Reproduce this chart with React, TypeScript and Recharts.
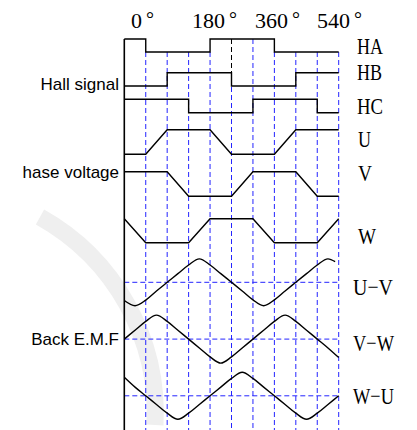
import React from 'react';
import { LineChart, Line, XAxis, YAxis, ReferenceLine } from 'recharts';

// electrical angle of each grid step (one step = 60 deg)
const gridDeg = [0, 60, 120, 180, 240, 300, 360, 420, 480, 540, 600];

// hall sensor states, one per step (last value repeats for the step end)
const haBits = [1, 0, 0, 0, 1, 1, 1, 0, 0, 0, 0];
const hbBits = [0, 0, 1, 1, 1, 0, 0, 0, 1, 1, 1];
const hcBits = [1, 1, 1, 0, 0, 0, 1, 1, 1, 0, 0];

// phase voltage (0 = low, 1 = high) at every step
const uPhase = [0, 0, 1, 1, 1, 0, 0, 0, 1, 1, 1];
const vPhase = [1, 1, 1, 0, 0, 0, 1, 1, 1, 0, 0];
const wPhase = [1, 0, 0, 0, 1, 1, 1, 0, 0, 0, 1];

// back EMF, sampled every half step
const emfDeg = [0, 30, 60, 90, 120, 150, 180, 210, 240, 270, 300, 330, 360, 390, 420, 450, 480, 510, 540, 570, 600];
const uvDeg = [0, 30, 60, 90, 120, 150, 180, 210, 240, 270, 300, 330, 360, 390, 420, 450, 480, 510, 540, 570, 590];
const uvEmf = [-0.78, -1, -0.76, -0.37, 0, 0.37, 0.74, 1, 0.74, 0.37, 0, -0.37, -0.75, -1, -0.75, -0.37, 0, 0.37, 0.74, 1, 0.88];
const vwEmf = [0, 0.37, 0.74, 1, 0.74, 0.37, 0, -0.37, -0.74, -1, -0.74, -0.37, 0, 0.37, 0.74, 1, 0.74, 0.37, 0, -0.37, -0.77];
const wuEmf = [0.79, 0.37, 0, -0.37, -0.74, -1, -0.74, -0.37, 0, 0.37, 0.74, 1, 0.74, 0.37, 0, -0.37, -0.74, -1, -0.74, -0.37, 0];

// angle labels along the top
const angleLabels = ['0', '180', '360', '540'];
const rowLabels = ['HA', 'HB', 'HC', 'U', 'V', 'W', 'U\u2212V', 'V\u2212W', 'W\u2212U'];
const groupLabels = ['Hall signal', 'hase voltage', 'Back E.M.F'];

// ---- layout ----
const W = 417;
const H = 430;
const X0 = 124.3; // pixel of 0 deg
const PX_PER_DEG = 21.44 / 60;
const X_MIN = -X0 / PX_PER_DEG;
const X_MAX = (W - X0) / PX_PER_DEG;

// track baselines (y of level 0) and swing, in chart y units
const rows = {
  HA: { base: 52, amp: 13 },
  HB: { base: 86, amp: 13.3 },
  HC: { base: 112.7, amp: 13.4 },
  U: { base: 154.3, amp: 24.6 },
  V: { base: 196.3, amp: 24.6 },
  W: { base: 242.7, amp: 24 },
  UV: { base: 282.3, amp: 23.4 },
  VW: { base: 339.1, amp: 24 },
  WU: { base: 395.8, amp: 23.5 },
};
const lv = (r: { base: number; amp: number }, v: number) => r.base - r.amp * v;

const gridTable = gridDeg.map((deg, i) => ({
  deg,
  HA: lv(rows.HA, haBits[i]),
  HB: lv(rows.HB, hbBits[i]),
  HC: lv(rows.HC, hcBits[i]),
  U: lv(rows.U, uPhase[i]),
  V: lv(rows.V, vPhase[i]),
  W: lv(rows.W, wPhase[i]),
}));
const emfTable = emfDeg.map((deg, i) => ({
  deg,
  VW: lv(rows.VW, vwEmf[i]),
  WU: lv(rows.WU, wuEmf[i]),
}));
const uvTable = uvDeg.map((deg, i) => ({ deg, UV: lv(rows.UV, uvEmf[i]) }));

const BLUE = '#2424ff';
const INK = '#000';
const SW = 1.4;

const angleX = [131, 192, 255, 317];
const rowLabelPos = [
  { x: 357, y: 54, len: 26 },
  { x: 357, y: 80, len: 25 },
  { x: 357, y: 114, len: 26 },
  { x: 358, y: 147, len: 13 },
  { x: 358, y: 181, len: 14 },
  { x: 358, y: 244, len: 18 },
  { x: 353, y: 295, len: 40 },
  { x: 353, y: 351, len: 41 },
  { x: 353, y: 404, len: 41 },
];
const groupY = [90, 178, 345];

const lineProps = {
  stroke: INK,
  strokeWidth: SW,
  dot: false,
  activeDot: false,
  isAnimationActive: false,
};

export default function App() {
  const dashTop = gridDeg.map((deg, i) =>
    i === 0 ? rows.HA.base : lv(rows.HA, Math.min(haBits[i - 1], haBits[i]))
  );

  return (
    <div style={{ position: 'absolute', left: 0, top: 0, width: W, height: H, background: '#fff' }}>
      {/* faint watermark arc */}
      <svg width={W} height={H} style={{ position: 'absolute', left: 0, top: 0 }}>
        <path d="M 40 217 A 225 225 0 0 1 155 425" fill="none" stroke="#efefef" strokeWidth={17} />
      </svg>
      <div style={{ position: 'relative' }}>
        <LineChart width={W} height={H} margin={{ top: 0, right: 0, bottom: 0, left: 0 }}>
          <XAxis type="number" dataKey="deg" domain={[X_MIN, X_MAX]} hide allowDataOverflow />
          <YAxis type="number" domain={[0, H]} reversed hide allowDataOverflow />

          {gridDeg.slice(1).map((deg, i) => (
            <ReferenceLine
              key={'v' + deg}
              segment={[{ x: deg, y: dashTop[i + 1] }, { x: deg, y: H }]}
              stroke={BLUE}
              strokeWidth={1}
              strokeDasharray="5 3"
            />
          ))}
          <ReferenceLine
            segment={[{ x: 300, y: rows.HA.base - rows.HA.amp }, { x: 300, y: rows.HB.base - rows.HB.amp }]}
            stroke={INK}
            strokeWidth={1}
            strokeDasharray="5 3"
          />
          {[rows.UV, rows.VW, rows.WU].map((r, i) => (
            <ReferenceLine
              key={'h' + i}
              segment={[{ x: 0, y: r.base }, { x: 600, y: r.base }]}
              stroke={BLUE}
              strokeWidth={1}
              strokeDasharray="5 3"
            />
          ))}
          <ReferenceLine
            segment={[{ x: 0, y: rows.HA.base - rows.HA.amp }, { x: 0, y: H }]}
            stroke={INK}
            strokeWidth={1.6}
          />

          {(['HA', 'HB', 'HC'] as const).map((k) => (
            <Line key={k} data={gridTable} dataKey={k} type="stepAfter" {...lineProps} />
          ))}
          {(['U', 'V', 'W'] as const).map((k) => (
            <Line key={k} data={gridTable} dataKey={k} type="linear" {...lineProps} />
          ))}
          <Line data={uvTable} dataKey="UV" type="monotone" {...lineProps} />
          <Line data={emfTable} dataKey="VW" type="monotone" {...lineProps} />
          <Line data={emfTable} dataKey="WU" type="monotone" {...lineProps} />
        </LineChart>
      </div>

      <svg width={W} height={H} style={{ position: 'absolute', left: 0, top: 0, pointerEvents: 'none' }}>
        <g fontFamily="'Liberation Serif', 'Times New Roman', serif" fontSize={22} fill={INK}>
          {angleLabels.map((t, i) => (
            <text key={t} x={angleX[i]} y={28}>
              {t}
              <tspan dx={4} dy={-2} fontSize={20}>°</tspan>
            </text>
          ))}
        </g>
        <g fontFamily="'Liberation Serif', 'Times New Roman', serif" fontSize={24} fill={INK}>
          {rowLabels.map((t, i) => (
            <text
              key={t}
              x={rowLabelPos[i].x}
              y={rowLabelPos[i].y}
              textLength={rowLabelPos[i].len}
              lengthAdjust="spacingAndGlyphs"
            >
              {t}
            </text>
          ))}
        </g>
        <g fontFamily="'Liberation Sans', Arial, sans-serif" fontSize={17} fill={INK} textAnchor="end">
          {groupLabels.map((t, i) => (
            <text key={t} x={119} y={groupY[i]}>
              {t}
            </text>
          ))}
        </g>
      </svg>
    </div>
  );
}
